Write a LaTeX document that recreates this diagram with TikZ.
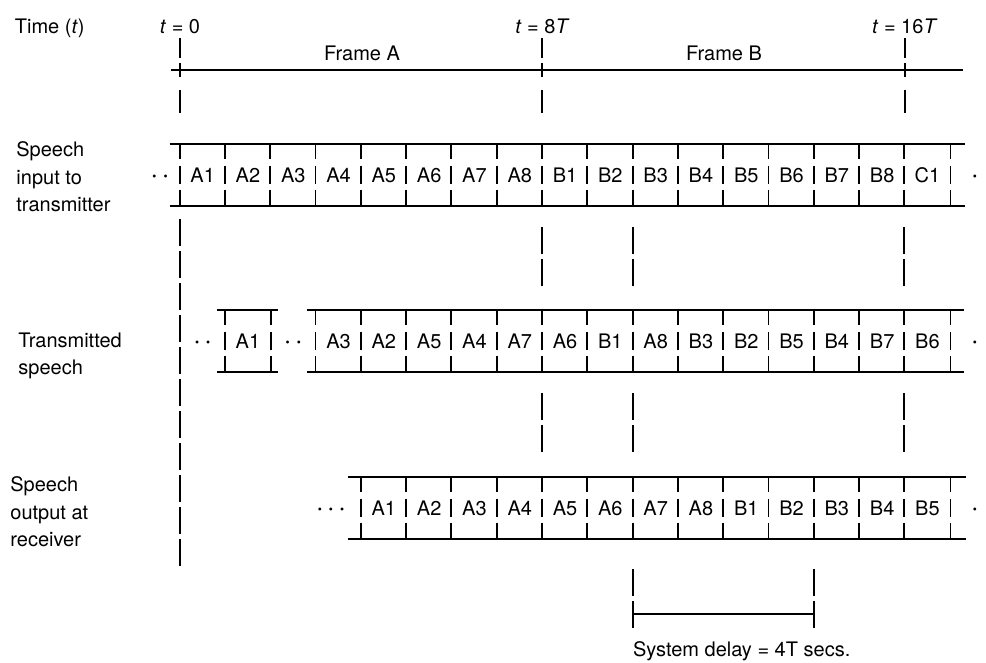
\documentclass[tikz,border=0pt]{standalone}
\usepackage{fontspec}
\setmainfont{TeX Gyre Heros}
\usetikzlibrary{positioning, calc}

\begin{document}
\begin{tikzpicture}[x=0.5pt, y=-0.5pt,
  font=\fontsize{10}{13.75}\selectfont,
  cell/.style={minimum width=22.65pt, minimum height=31pt, inner sep=0pt},
  rail/.style={line width=0.95pt},
  sep/.style={line width=0.95pt, dash pattern=on 7.5pt off 3.5pt on 9pt off 3pt on 8pt},
  marker/.style={line width=0.95pt, dash pattern=on 13.5pt off 2.5pt},
  timemark/.style={line width=0.95pt, dash pattern=on 10pt off 2.5pt on 7pt off 6.5pt on 11.5pt},
  rowlabel/.style={anchor=west, align=left, inner sep=0pt},
  dots/.style={anchor=base, inner sep=0pt, font=\fontsize{10}{13.75}\selectfont\bfseries},
  stamp/.style={inner sep=1pt}
]
\useasboundingbox (0,0) rectangle (986,663);
% Time axis
\node[anchor=west, inner sep=0pt] (tlab) at (14.5,28) {Time (\textit{t})};
\coordinate (t0) at (180,38);
\coordinate (t8) at (542.4,38);
\coordinate (t16) at (904.8,38);
\coordinate (ax0) at (171,70);
\coordinate (ax1) at (963,70);
\draw[rail] (ax0) -- (ax1);
\foreach \c/\txt in {t0/0, t8/8\textit{T}, t16/16\textit{T}} {
  \node[stamp, above=1pt of \c] (l\c) {\textit{t} = \txt};
  \draw[timemark] (\c) -- ++(0,75);
}
\node (fa) at (362,53) {Frame A};
\node (fb) at (724,53) {Frame B};

% Speech input to transmitter
\node[rowlabel] (inlab) at (16,177) {Speech\\input to\\transmitter};
\node[dots] (ind1) at (160,181.7) {· ·};
\foreach \lab [count=\k] in {A1,A2,A3,A4,A5,A6,A7,A8,B1,B2,B3,B4,B5,B6,B7,B8,C1}
  \node[cell] (in\k) at ({157.35+45.3*\k},175) {\lab};
\node[dots] (ind2) at (975,181.7) {·};
\draw[rail] ([xshift=-5pt]in1.north west) -- ([xshift=7pt]in17.north east);
\draw[rail] ([xshift=-5pt]in1.south west) -- ([xshift=7pt]in17.south east);
\foreach \k in {1,...,17}
  \draw[sep] (in\k.north west) -- (in\k.south west);
\draw[sep] (in17.north east) -- (in17.south east);

% Transmitted speech
\node[rowlabel] (txlab) at (18,356) {Transmitted\\speech};
\node[dots] (txd1) at (202.65,347.7) {· ·};
\node[cell] (tx2) at (247.95,341) {A1};
\node[dots] (txd2) at (293.25,347.7) {· ·};
\foreach \lab [count=\k from 4] in {A3,A2,A5,A4,A7,A6,B1,A8,B3,B2,B5,B4,B7,B6}
  \node[cell] (tx\k) at ({157.35+45.3*\k},341) {\lab};
\node[dots] (txd3) at (975,347.7) {·};
\draw[rail] ([xshift=-4pt]tx2.north west) -- ([xshift=3.7pt]tx2.north east);
\draw[rail] ([xshift=-4pt]tx2.south west) -- ([xshift=3.7pt]tx2.south east);
\draw[sep] (tx2.north west) -- (tx2.south west);
\draw[sep] (tx2.north east) -- (tx2.south east);
\draw[rail] ([xshift=-4.5pt]tx4.north west) -- ([xshift=6.5pt]tx17.north east);
\draw[rail] ([xshift=-4.5pt]tx4.south west) -- ([xshift=6.5pt]tx17.south east);
\foreach \k in {4,...,17}
  \draw[sep] (tx\k.north west) -- (tx\k.south west);
\draw[sep] (tx17.north east) -- (tx17.south east);

% Speech output at receiver
\node[rowlabel] (rxlab) at (10,512) {Speech\\output at\\receiver};
\node[dots] (rxd1) at (331,514.7) {· · ·};
\foreach \lab [count=\k from 5] in {A1,A2,A3,A4,A5,A6,A7,A8,B1,B2,B3,B4,B5}
  \node[cell] (rx\k) at ({157.35+45.3*\k},508) {\lab};
\node[dots] (rxd2) at (975,514.7) {·};
\draw[rail] ([xshift=-6.5pt]rx5.north west) -- ([xshift=7.5pt]rx17.north east);
\draw[rail] ([xshift=-6.5pt]rx5.south west) -- ([xshift=7.5pt]rx17.south east);
\foreach \k in {5,...,17}
  \draw[sep] (rx\k.north west) -- (rx\k.south west);
\draw[sep] (rx17.north east) -- (rx17.south east);

% Markers between rows
\draw[marker] (in1.south west) ++(0,13) -- ++(0,347);
\foreach \k in {9,11,17} {
  \draw[marker] (in\k.south west) ++(0,21) -- ++(0,59);
  \draw[marker] (tx\k.south west) ++(0,21) -- ++(0,59);
}

% System delay
\coordinate (d0) at ($(rx11.south west)+(0,75)$);
\coordinate (d1) at ($(rx15.south west)+(0,75)$);
\draw[marker] (rx11.south west) ++(0,30) -- ++(0,60);
\draw[marker] (rx15.south west) ++(0,30) -- ++(0,60);
\draw[rail] (d0) -- (d1);
\node[anchor=west, inner sep=0pt] (delay) at ($(rx11.south west)+(0,112)$) {System delay = 4T secs.};
\end{tikzpicture}
\end{document}
